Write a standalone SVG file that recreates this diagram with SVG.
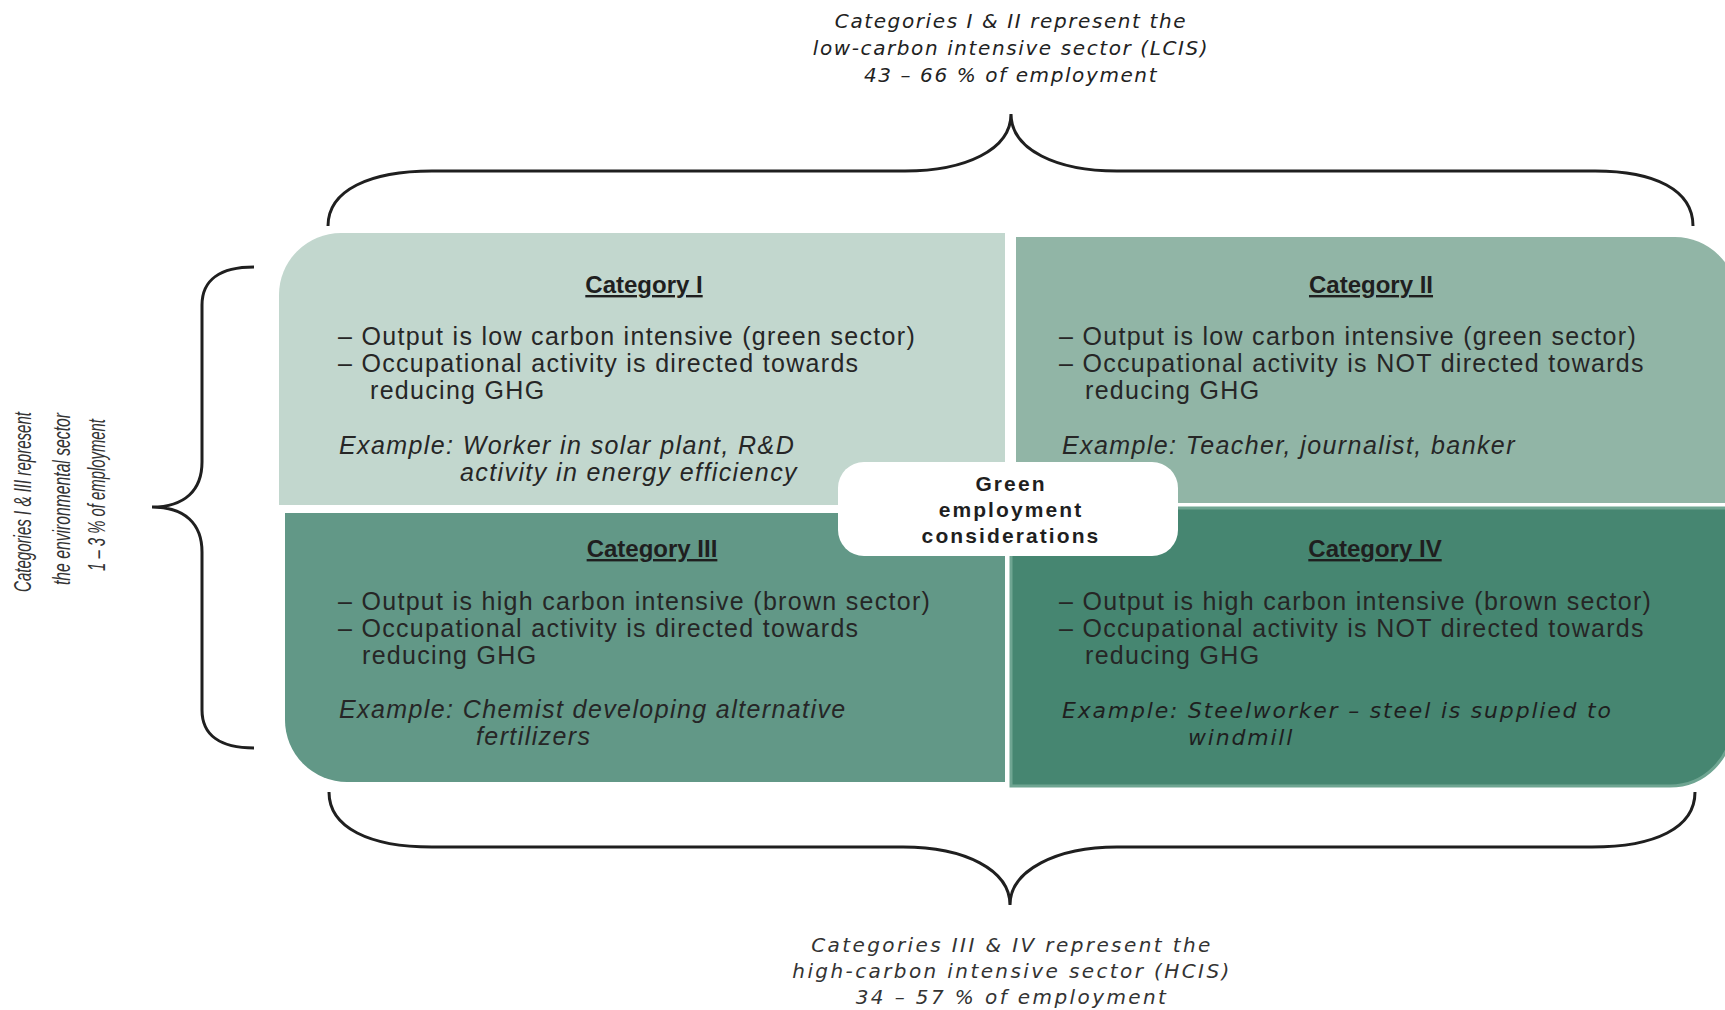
<svg xmlns="http://www.w3.org/2000/svg" width="1725" height="1010" viewBox="0 0 1725 1010">
<style>
  .brace { fill: none; stroke: #1f1f1f; stroke-width: 3; stroke-linecap: butt; }
  .title { font-family: "Liberation Sans", Arial, sans-serif; font-weight: bold; font-size: 24px; fill: #1f1f1f; text-anchor: middle; text-decoration: underline; }
  .body { font-family: "Liberation Sans", Arial, sans-serif; font-size: 25px; fill: #262626; letter-spacing: 1.3px; }
  .ex { font-family: "Liberation Sans", Arial, sans-serif; font-style: italic; font-size: 25px; fill: #262626; letter-spacing: 1.4px; }
  .ex4 { font-family: "DejaVu Sans", sans-serif; font-style: italic; font-size: 22px; fill: #1f1f1f; letter-spacing: 1.8px; }
  .center { font-family: "Liberation Sans", Arial, sans-serif; font-weight: bold; font-size: 21px; fill: #1f1f1f; text-anchor: middle; letter-spacing: 2.1px; }
  .top { font-family: "DejaVu Sans", sans-serif; font-style: italic; font-size: 20px; fill: #222; text-anchor: middle; letter-spacing: 1.6px; }
  .bottom { font-family: "DejaVu Sans", sans-serif; font-style: italic; font-size: 20px; fill: #333; text-anchor: middle; letter-spacing: 2.4px; }
  .side { font-family: "Liberation Sans", Arial, sans-serif; font-style: italic; font-size: 23px; fill: #333; text-anchor: middle; }
</style>
<rect x="0" y="0" width="1725" height="1010" fill="#ffffff"/>

<g id="cat1">
  <path d="M 279 505 L 279 295 A 62 62 0 0 1 341 233 L 1005 233 L 1005 505 Z" fill="#c2d7ce"/>
  <text class="title" x="644" y="293">Category I</text>
  <text class="body" x="338" y="345">– Output is low carbon intensive (green sector)</text>
  <text class="body" x="338" y="372">– Occupational activity is directed towards</text>
  <text class="body" x="370" y="399">reducing GHG</text>
  <text class="ex" x="339" y="454">Example: Worker in solar plant, R&amp;D</text>
  <text class="ex" x="460" y="481">activity in energy efficiency</text>
</g>

<g id="cat2">
  <path d="M 1016 237 L 1675 237 A 62 62 0 0 1 1737 299 L 1737 503 L 1016 503 Z" fill="#91b5a6"/>
  <text class="title" x="1371" y="293">Category II</text>
  <text class="body" x="1059" y="345">– Output is low carbon intensive (green sector)</text>
  <text class="body" x="1059" y="372">– Occupational activity is NOT directed towards</text>
  <text class="body" x="1085" y="399">reducing GHG</text>
  <text class="ex" x="1062" y="454">Example: Teacher, journalist, banker</text>
</g>

<g id="cat3">
  <path d="M 285 513 L 1005 513 L 1005 782 L 347 782 A 62 62 0 0 1 285 720 Z" fill="#629887"/>
  <text class="title" x="652" y="557">Category III</text>
  <text class="body" x="338" y="610">– Output is high carbon intensive (brown sector)</text>
  <text class="body" x="338" y="637">– Occupational activity is directed towards</text>
  <text class="body" x="362" y="664">reducing GHG</text>
  <text class="ex" x="339" y="718">Example: Chemist developing alternative</text>
  <text class="ex" x="476" y="745">fertilizers</text>
</g>

<g id="cat4">
  <path d="M 1011 508 L 1732 508 L 1732 724 A 62 62 0 0 1 1670 786 L 1011 786 Z" fill="#468671" stroke="#6fa592" stroke-width="3"/>
  <text class="title" x="1375" y="557">Category IV</text>
  <text class="body" x="1059" y="610">– Output is high carbon intensive (brown sector)</text>
  <text class="body" x="1059" y="637">– Occupational activity is NOT directed towards</text>
  <text class="body" x="1085" y="664">reducing GHG</text>
  <text class="ex4" x="1062" y="718">Example: Steelworker – steel is supplied to</text>
  <text class="ex4" x="1188" y="745">windmill</text>
</g>

<g id="center">
  <rect x="838" y="462" width="340" height="94" rx="26" ry="26" fill="#ffffff"/>
  <text class="center" x="1011" y="491">Green</text>
  <text class="center" x="1011" y="517">employment</text>
  <text class="center" x="1011" y="543">considerations</text>
</g>

<g id="label-top">
  <text class="top" x="1011" y="28">Categories I &amp; II represent the</text>
  <text class="top" x="1011" y="55">low-carbon intensive sector (LCIS)</text>
  <text class="top" x="1011" y="82">43 – 66 % of employment</text>
</g>

<g id="label-bottom">
  <text class="bottom" x="1012" y="952">Categories III &amp; IV represent the</text>
  <text class="bottom" x="1012" y="978">high-carbon intensive sector (HCIS)</text>
  <text class="bottom" x="1012" y="1004">34 – 57 % of employment</text>
</g>

<g id="label-left">
  <text class="side" transform="translate(31,502) rotate(-90)" textLength="180" lengthAdjust="spacingAndGlyphs">Categories I &amp; III represent</text>
  <text class="side" transform="translate(70,499) rotate(-90)" textLength="172" lengthAdjust="spacingAndGlyphs">the environmental sector</text>
  <text class="side" transform="translate(105,495) rotate(-90)" textLength="152" lengthAdjust="spacingAndGlyphs">1 – 3 % of employment</text>
</g>

<g id="connectors">
  <path class="brace" d="M 328 226 C 328 190 370 171 432 171 L 905 171 C 965 171 1011 150 1011 114 C 1011 150 1057 171 1117 171 L 1595 171 C 1655 171 1693 190 1693 226"/>
  <path class="brace" d="M 329 792 C 329 828 370 847 432 847 L 903 847 C 965 847 1010 870 1010 905 C 1010 870 1057 847 1117 847 L 1592 847 C 1655 847 1695 828 1695 792"/>
  <path class="brace" d="M 254 267 C 220 267 202 280 202 305 L 202 462 C 202 490 185 507 152 507 C 185 507 202 524 202 552 L 202 710 C 202 735 220 748 254 748"/>
</g>
</svg>
